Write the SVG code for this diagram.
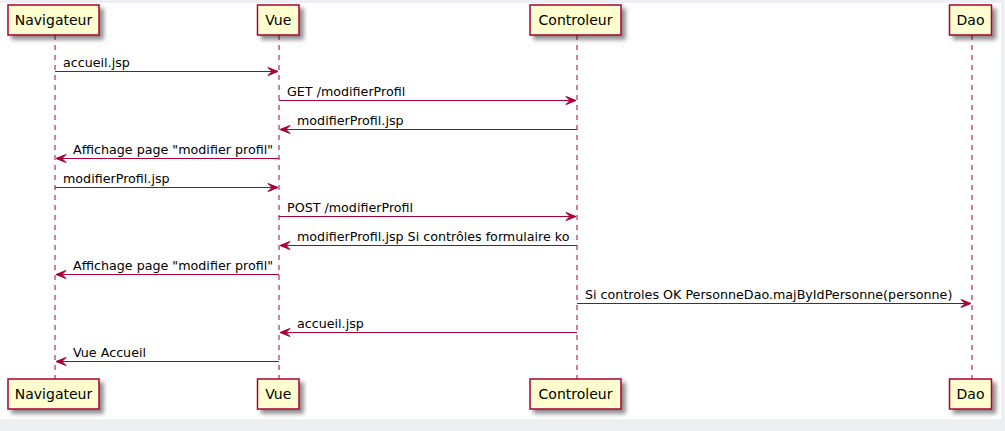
<svg xmlns="http://www.w3.org/2000/svg" width="1005" height="431" viewBox="0 0 1005 431">
<defs>
<filter id="sh" x="-20%" y="-20%" width="150%" height="160%">
<feGaussianBlur in="SourceAlpha" stdDeviation="2" result="b"/>
<feOffset in="b" dx="4" dy="4" result="o"/>
<feComponentTransfer in="o" result="c"><feFuncA type="linear" slope="0.45"/></feComponentTransfer>
<feMerge><feMergeNode in="c"/><feMergeNode in="SourceGraphic"/></feMerge>
</filter>
<marker id="ah" viewBox="-1 -1 12 10" refX="10" refY="4" markerWidth="12" markerHeight="10" markerUnits="userSpaceOnUse" orient="auto">
<path d="M0,0 L10,4 L0,8 L4,4 Z" fill="#A80036" stroke="#A80036" stroke-width="1"/>
</marker>
</defs>
<style>
.box{fill:#FEFECE;stroke:#A80036;stroke-width:1.5;filter:url(#sh)}
.name{font-family:"DejaVu Sans",sans-serif;font-size:14px;fill:#000;text-anchor:middle}
.life{stroke:#A80036;stroke-width:1;stroke-dasharray:5,5;fill:none}
.msg{stroke:#A80036;stroke-width:1;fill:none;marker-end:url(#ah)}
.lbl{font-family:"DejaVu Sans",sans-serif;font-size:12.7px;fill:#000}
</style>
<rect x="0" y="0" width="1005" height="431" fill="#EEEFF3"/>
<rect x="0" y="3" width="1001" height="416" fill="#FFFFFF"/>
<g id="lifelines">
<line class="life" x1="55" y1="35" x2="55" y2="379"/>
<line class="life" x1="279" y1="35" x2="279" y2="379"/>
<line class="life" x1="577" y1="35" x2="577" y2="379"/>
<line class="life" x1="972" y1="35" x2="972" y2="379"/>
</g>
<g id="Navigateur">
<rect class="box" x="8" y="5" width="91" height="30"/>
<text class="name" x="53.5" y="25">Navigateur</text>
<rect class="box" x="8" y="379" width="91" height="30"/>
<text class="name" x="53.5" y="399">Navigateur</text>
</g>
<g id="Vue">
<rect class="box" x="257.5" y="5" width="41.5" height="30"/>
<text class="name" x="278.2" y="25">Vue</text>
<rect class="box" x="257.5" y="379" width="41.5" height="30"/>
<text class="name" x="278.2" y="399">Vue</text>
</g>
<g id="Controleur">
<rect class="box" x="530" y="5" width="91" height="30"/>
<text class="name" x="575.5" y="25">Controleur</text>
<rect class="box" x="530" y="379" width="91" height="30"/>
<text class="name" x="575.5" y="399">Controleur</text>
</g>
<g id="Dao">
<rect class="box" x="949.5" y="5" width="42" height="30"/>
<text class="name" x="970.5" y="25">Dao</text>
<rect class="box" x="949.5" y="379" width="42" height="30"/>
<text class="name" x="970.5" y="399">Dao</text>
</g>
<g id="connectors">
<line class="msg" x1="55" y1="71.5" x2="278" y2="71.5"/>
<text class="lbl" x="63" y="66.5">accueil.jsp</text>
<line class="msg" x1="279" y1="100.5" x2="576" y2="100.5"/>
<text class="lbl" x="287" y="95.5">GET /modifierProfil</text>
<line class="msg" x1="577" y1="129.5" x2="280" y2="129.5"/>
<text class="lbl" x="297" y="124.5">modifierProfil.jsp</text>
<line class="msg" x1="279" y1="158.5" x2="56" y2="158.5"/>
<text class="lbl" x="73" y="153.5">Affichage page "modifier profil"</text>
<line class="msg" x1="55" y1="187.5" x2="278" y2="187.5"/>
<text class="lbl" x="63" y="182.5">modifierProfil.jsp</text>
<line class="msg" x1="279" y1="216.5" x2="576" y2="216.5"/>
<text class="lbl" x="287" y="211.5">POST /modifierProfil</text>
<line class="msg" x1="577" y1="245.5" x2="280" y2="245.5"/>
<text class="lbl" x="297" y="240.5">modifierProfil.jsp Si contrôles formulaire ko</text>
<line class="msg" x1="279" y1="274.5" x2="56" y2="274.5"/>
<text class="lbl" x="73" y="269.5">Affichage page "modifier profil"</text>
<line class="msg" x1="577" y1="303.5" x2="971" y2="303.5"/>
<text class="lbl" x="585" y="298.5">Si controles OK PersonneDao.majByIdPersonne(personne)</text>
<line class="msg" x1="577" y1="332.5" x2="280" y2="332.5"/>
<text class="lbl" x="297" y="327.5">accueil.jsp</text>
<line class="msg" x1="279" y1="361.5" x2="56" y2="361.5"/>
<text class="lbl" x="73" y="356.5">Vue Accueil</text>
</g>
</svg>
